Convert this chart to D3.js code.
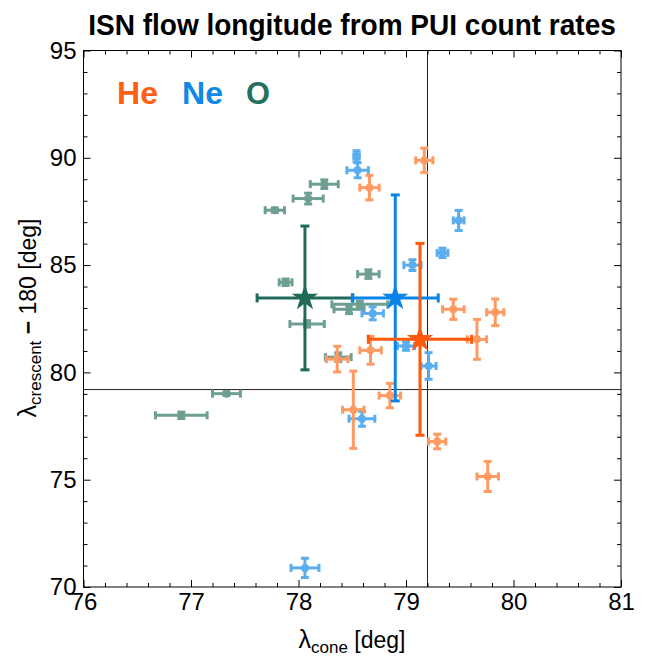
<!DOCTYPE html>
<html><head><meta charset="utf-8">
<script src="https://cdn.jsdelivr.net/npm/d3@7"></script>
<style>body{margin:0;background:#fff}svg{display:block;font-family:"Liberation Sans",Arial,sans-serif}</style>
</head><body><svg id="c" width="650" height="657"></svg>
<script>
// [x, y, xErr, yErr]
const heData = [
  [79.17, 89.88, 0.08, 0.57],
  [78.66, 88.61, 0.09, 0.57],
  [79.44, 82.94, 0.10, 0.47],
  [79.83, 82.80, 0.08, 0.62],
  [79.66, 81.54, 0.09, 0.93],
  [78.67, 81.03, 0.10, 0.65],
  [78.36, 80.62, 0.10, 0.60],
  [78.85, 78.92, 0.10, 0.57],
  [78.51, 78.26, 0.10, 1.80],
  [79.29, 76.78, 0.08, 0.34],
  [79.76, 75.15, 0.10, 0.70]
];
const neData = [
  [78.54, 90.07, 0.025, 0.26],
  [78.55, 89.42, 0.10, 0.35],
  [79.49, 87.08, 0.05, 0.47],
  [79.34, 85.57, 0.05, 0.22],
  [79.06, 85.00, 0.08, 0.25],
  [78.69, 82.75, 0.10, 0.30],
  [79.00, 81.23, 0.08, 0.20],
  [79.21, 80.30, 0.07, 0.62],
  [78.59, 77.84, 0.12, 0.35],
  [78.06, 70.89, 0.13, 0.45]
];
const oData = [
  [78.24, 88.77, 0.13, 0.20],
  [78.09, 88.10, 0.14, 0.25],
  [77.78, 87.56, 0.09, 0.10],
  [77.88, 84.20, 0.06, 0.15],
  [78.65, 84.58, 0.10, 0.20],
  [78.57, 83.17, 0.26, 0.15],
  [78.47, 82.94, 0.14, 0.20],
  [78.08, 82.26, 0.16, 0.15],
  [78.37, 80.71, 0.12, 0.20],
  [77.33, 79.01, 0.13, 0.08],
  [76.91, 78.00, 0.24, 0.15]
];
const meanStars = [
  {name: "O",  v: [78.06, 83.47, 0.445, 3.35]},
  {name: "Ne", v: [78.90, 83.47, 0.40, 4.80]},
  {name: "He", v: [79.13, 81.54, 0.48, 4.47]}
];
const legendNames = ["He", "Ne", "O"];
const xTicks = [76, 77, 78, 79, 80, 81];
const yTicks = [70, 75, 80, 85, 90, 95];
const refLon = 79.2;

const colLight = {He: "#ff9a62", Ne: "#5aaeef", O: "#6d9f93"};
const colDark  = {He: "#ff5a0c", Ne: "#0a84e8", O: "#1f6a58"};
const colLegend = {He: "#ff5f14", Ne: "#0f88e8", O: "#26705f"};

const svg = d3.select("#c");
const L = 83.5, R = 621, T = 50.5, B = 587;
const x = d3.scaleLinear().domain([76, 81]).range([L, R]);
const y = d3.scaleLinear().domain([70, 95]).range([B, T]);

// reference lines
svg.append("line").attr("x1", x(refLon)).attr("x2", x(refLon)).attr("y1", T).attr("y2", B)
  .attr("stroke", "#222").attr("stroke-width", 1);
svg.append("line").attr("x1", L).attr("x2", R).attr("y1", y(refLon)).attr("y2", y(refLon))
  .attr("stroke", "#222").attr("stroke-width", 1);

function errPoint(g, d, color, cap, sw, r) {
  const [vx, vy, ex, ey] = d;
  const gg = g.append("g").attr("stroke", color).attr("fill", color).attr("stroke-width", sw);
  gg.append("line").attr("x1", x(vx - ex)).attr("x2", x(vx + ex)).attr("y1", y(vy)).attr("y2", y(vy));
  gg.append("line").attr("x1", x(vx)).attr("x2", x(vx)).attr("y1", y(vy - ey)).attr("y2", y(vy + ey));
  gg.append("line").attr("x1", x(vx - ex)).attr("x2", x(vx - ex)).attr("y1", y(vy) - cap).attr("y2", y(vy) + cap);
  gg.append("line").attr("x1", x(vx + ex)).attr("x2", x(vx + ex)).attr("y1", y(vy) - cap).attr("y2", y(vy) + cap);
  gg.append("line").attr("y1", y(vy - ey)).attr("y2", y(vy - ey)).attr("x1", x(vx) - cap).attr("x2", x(vx) + cap);
  gg.append("line").attr("y1", y(vy + ey)).attr("y2", y(vy + ey)).attr("x1", x(vx) - cap).attr("x2", x(vx) + cap);
  if (r > 0) gg.append("circle").attr("cx", x(vx)).attr("cy", y(vy)).attr("r", r).attr("stroke", "none");
  return gg;
}

const pts = svg.append("g");
[["O", oData], ["Ne", neData], ["He", heData]].forEach(([k, arr]) => {
  arr.forEach(d => errPoint(pts, d, colLight[k], 4, 3, 4));
});

const stars = svg.append("g");
meanStars.forEach(s => {
  const g = errPoint(stars, s.v, colDark[s.name], 4.5, 3, 0);
  g.append("path").attr("d", d3.symbol(d3.symbolStar, 215)())
    .attr("transform", `translate(${x(s.v[0])},${y(s.v[1])})`)
    .attr("stroke", "none");
});

// frame
svg.append("rect").attr("x", L).attr("y", T).attr("width", R - L).attr("height", B - T)
  .attr("fill", "none").attr("stroke", "#000").attr("stroke-width", 1);

// axes
const xMinor = d3.range(76, 81.001, 0.2).filter(v => Math.abs(v - Math.round(v)) > 1e-6);
const yMinor = d3.range(70, 95.001, 1).filter(v => v % 5 !== 0);
function styleAxis(g) { g.select(".domain").remove(); g.selectAll("line").attr("stroke", "#000"); }

svg.append("g").attr("transform", `translate(0,${B})`)
  .call(d3.axisBottom(x).tickValues(xTicks).tickSize(-7).tickPadding(6).tickFormat(d3.format("d")))
  .call(styleAxis)
  .call(g => g.selectAll("text").attr("font-size", 24).attr("fill", "#000").attr("font-family", "Liberation Sans, Arial"));
svg.append("g").attr("transform", `translate(0,${B})`)
  .call(d3.axisBottom(x).tickValues(xMinor).tickSize(-4).tickFormat("")).call(styleAxis);
svg.append("g").attr("transform", `translate(0,${T})`)
  .call(d3.axisTop(x).tickValues(xTicks).tickSize(-7).tickFormat("")).call(styleAxis);
svg.append("g").attr("transform", `translate(0,${T})`)
  .call(d3.axisTop(x).tickValues(xMinor).tickSize(-4).tickFormat("")).call(styleAxis);

svg.append("g").attr("transform", `translate(${L},0)`)
  .call(d3.axisLeft(y).tickValues(yTicks).tickSize(-7).tickPadding(7).tickFormat(d3.format("d")))
  .call(styleAxis)
  .call(g => g.selectAll("text").attr("font-size", 24).attr("fill", "#000").attr("font-family", "Liberation Sans, Arial"));
svg.append("g").attr("transform", `translate(${L},0)`)
  .call(d3.axisLeft(y).tickValues(yMinor).tickSize(-4).tickFormat("")).call(styleAxis);
svg.append("g").attr("transform", `translate(${R},0)`)
  .call(d3.axisRight(y).tickValues(yTicks).tickSize(-7).tickFormat("")).call(styleAxis);
svg.append("g").attr("transform", `translate(${R},0)`)
  .call(d3.axisRight(y).tickValues(yMinor).tickSize(-4).tickFormat("")).call(styleAxis);

// title (condensed by horizontal scaling to the reference width)
const title = svg.append("text").attr("x", 0).attr("y", 0).attr("text-anchor", "middle")
  .attr("font-size", 30).attr("font-weight", "bold").attr("fill", "#000")
  .text("ISN flow longitude from PUI count rates");
const tw = title.node().getComputedTextLength();
title.attr("transform", `translate(352,35) scale(${528 / tw},1)`);

// legend
const legX = {He: 117, Ne: 182, O: 246};
const legW = {He: 41, Ne: 41, O: 24};
legendNames.forEach(n => {
  const t = svg.append("text").attr("x", 0).attr("y", 0).attr("font-size", 31)
    .attr("font-weight", "bold").attr("fill", colLegend[n]).text(n);
  const w = t.node().getComputedTextLength();
  t.attr("transform", `translate(${legX[n]},104) scale(${legW[n] / w},1)`);
});

// axis titles
const xt = svg.append("text").attr("x", 352).attr("y", 648).attr("text-anchor", "middle")
  .attr("font-size", 23).attr("fill", "#000");
xt.append("tspan").attr("font-size", 25).text("λ");
xt.append("tspan").attr("font-size", 17).attr("dy", 5).text("cone");
xt.append("tspan").attr("dy", -5).text(" [deg]");

const yt = svg.append("text").attr("transform", "translate(36,318) rotate(-90)").attr("text-anchor", "middle")
  .attr("font-size", 23).attr("fill", "#000");
yt.append("tspan").attr("font-size", 25).text("λ");
yt.append("tspan").attr("font-size", 17).attr("dy", 5).text("crescent");
yt.append("tspan").attr("dy", -5).attr("font-weight", "bold").text(" − ");
yt.append("tspan").text("180 [deg]");
</script></body></html>
